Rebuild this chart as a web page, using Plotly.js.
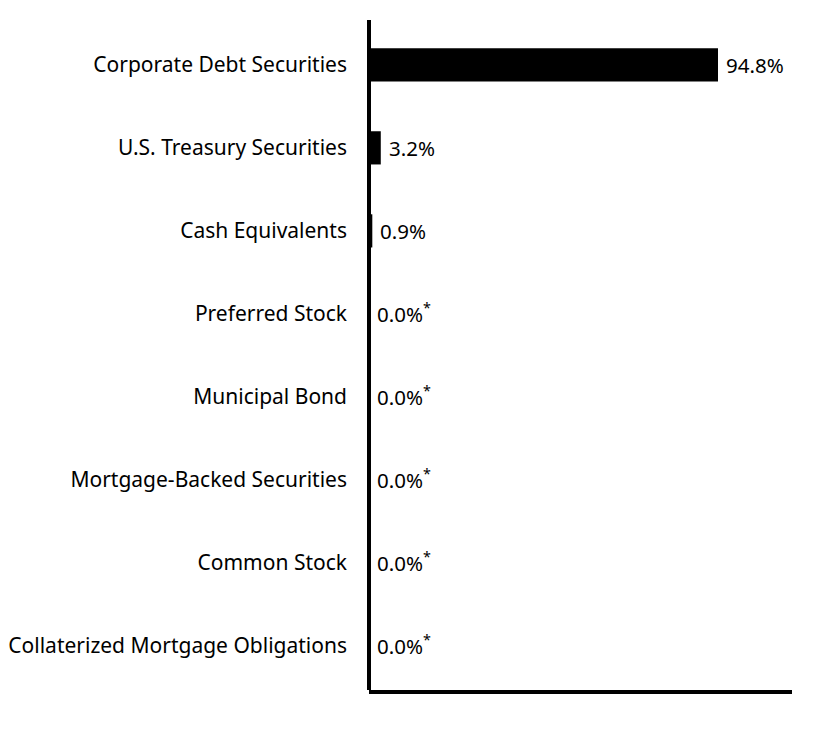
<!DOCTYPE html>
<html>
<head>
<meta charset="utf-8">
<script src="https://cdn.plot.ly/plotly-3.0.1.min.js"></script>
<style>
  html, body { margin: 0; padding: 0; background: #ffffff; }
  #chart { width: 828px; height: 756px; }
</style>
</head>
<body>
<div id="chart"></div>
<script>
// holdings by asset type, % of net assets
const categories = [
  'Corporate Debt Securities',
  'U.S. Treasury Securities',
  'Cash Equivalents',
  'Preferred Stock',
  'Municipal Bond',
  'Mortgage-Backed Securities',
  'Common Stock',
  'Collaterized Mortgage Obligations'
];
const values = [94.8, 3.2, 0.9, 0.0, 0.0, 0.0, 0.0, 0.0];
// values shown as 0.0% get a footnote mark
const footnoted = [false, false, false, true, true, true, true, true];

const labels = values.map((v, i) => v.toFixed(1) + '%' + (footnoted[i] ? '<sup>*</sup>' : ''));

const FONT = '"Noto Sans", Lato, sans-serif';

const trace = {
  type: 'bar',
  orientation: 'h',
  x: values,
  y: categories,
  marker: { color: '#000000', line: { width: 0 } },
  width: 0.4,
  hoverinfo: 'skip'
};

// value labels just right of each bar end
const annotations = values.map((v, i) => ({
  x: v,
  y: categories[i],
  xref: 'x',
  yref: 'y',
  text: labels[i],
  showarrow: false,
  xanchor: 'left',
  yanchor: 'middle',
  xshift: 6,
  yshift: footnoted[i] ? 1 : 0,
  font: { family: FONT, size: 20.5, color: '#000000' }
}));

const layout = {
  width: 828,
  height: 756,
  margin: { l: 369, r: 36, t: 20, b: 66 },
  paper_bgcolor: '#ffffff',
  plot_bgcolor: '#ffffff',
  showlegend: false,
  font: { family: FONT, size: 20, color: '#000000' },
  annotations,
  xaxis: {
    range: [0, 114.9],
    showgrid: false,
    // the vertical axis line sits centred on zero, under the bar starts
    zeroline: true,
    zerolinecolor: '#000000',
    zerolinewidth: 4,
    showticklabels: false,
    ticks: '',
    showline: true,
    linecolor: '#000000',
    linewidth: 4,
    fixedrange: true
  },
  yaxis: {
    type: 'category',
    range: [7.53, -0.54],
    showgrid: false,
    zeroline: false,
    ticks: '',
    ticklabelstandoff: 21,
    showline: false,
    tickfont: { family: FONT, size: 21, color: '#000000' },
    fixedrange: true
  }
};

Plotly.newPlot('chart', [trace], layout, { displayModeBar: false, staticPlot: true });
</script>
</body>
</html>
